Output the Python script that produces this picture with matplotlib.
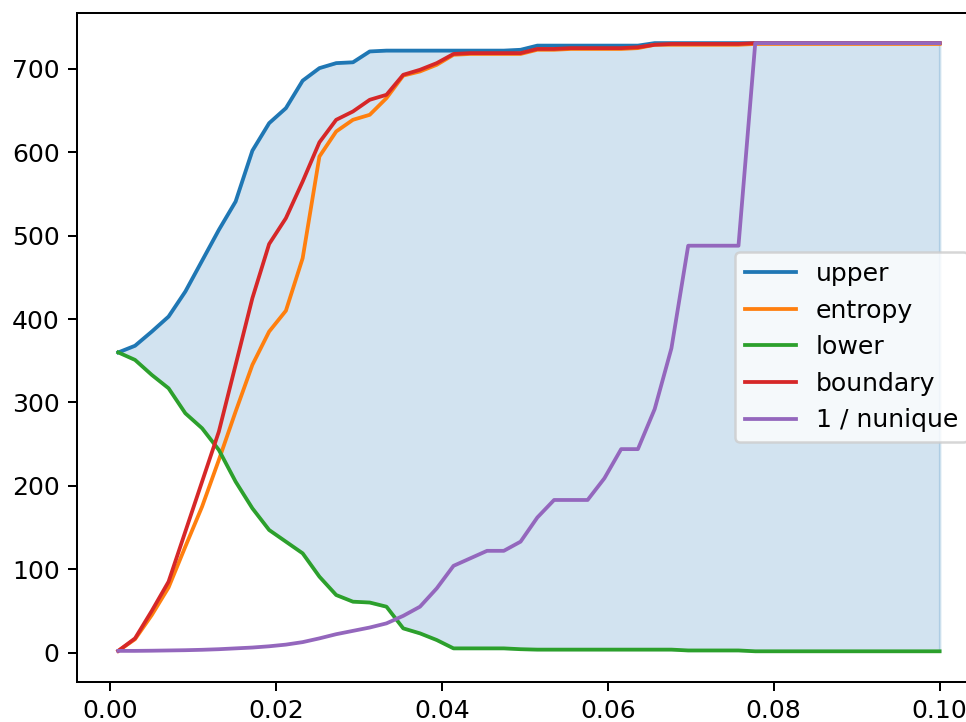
import numpy as np
import matplotlib
matplotlib.use("Agg")
import matplotlib.pyplot as plt

# thresholds (x axis)
x = np.linspace(0.001, 0.1, 50)

upper = [360, 368, 385, 403, 433, 470, 507, 541, 602, 635,
         653, 686, 701, 707, 708, 721, 722, 722, 722, 722,
         722, 722, 722, 722, 723, 728, 728, 728, 728, 728,
         728, 728, 731, 731, 731, 731, 731, 731, 731, 731,
         731, 731, 731, 731, 731, 731, 731, 731, 731, 731]

entropy = [2, 16, 45, 78, 127, 175, 231, 289, 345, 385,
           410, 473, 595, 625, 639, 645, 665, 692, 697, 705,
           717, 718, 718, 718, 718, 723, 723, 724, 724, 724,
           724, 725, 729, 729, 729, 729, 729, 729, 730, 730,
           730, 730, 730, 730, 730, 730, 730, 730, 730, 730]

lower = [360, 351, 333, 317, 287, 269, 243, 205, 173, 147,
         133, 119, 91, 69, 61, 60, 55, 29, 23, 15,
         5, 5, 5, 5, 4, 3.5, 3.5, 3.5, 3.5, 3.5,
         3.5, 3.5, 3.5, 3.5, 2.5, 2.5, 2.5, 2.5, 1.5, 1.5,
         1.5, 1.5, 1.5, 1.5, 1.5, 1.5, 1.5, 1.5, 1.5, 1.5]

boundary = [2, 17, 50, 85, 145, 205, 265, 345, 425, 490,
            521, 565, 612, 639, 649, 663, 669, 693, 699, 707,
            718, 719, 719, 719, 719, 724, 724, 725, 725, 725,
            725, 726, 729, 730, 730, 730, 730, 730, 731, 731,
            731, 731, 731, 731, 731, 731, 731, 731, 731, 731]

inv_nunique = [2, 2, 2.2, 2.5, 2.8, 3.3, 4, 5, 6, 7.5,
               9.5, 12.5, 17, 22, 26, 30, 35, 44, 55, 77,
               104, 113, 122, 122, 133, 162, 183, 183, 183, 209,
               244, 244, 292, 365, 488, 488, 488, 488, 731, 731,
               731, 731, 731, 731, 731, 731, 731, 731, 731, 731]

dpi = 181
fig = plt.figure(figsize=(966 / dpi, 722 / dpi), dpi=dpi)
ax = fig.add_axes([77.2 / 966, 40.3 / 722, 903.5 / 966, 669 / 722])

ax.fill_between(x, lower, upper, color="C0", alpha=0.2)
ax.plot(x, upper, color="C0", label="upper")
ax.plot(x, entropy, color="C1", label="entropy")
ax.plot(x, lower, color="C2", label="lower")
ax.plot(x, boundary, color="C3", label="boundary")
ax.plot(x, inv_nunique, color="C4", label="1 / nunique")

ax.set_xticks([0.0, 0.02, 0.04, 0.06, 0.08, 0.10])
ax.set_xticklabels(["0.00", "0.02", "0.04", "0.06", "0.08", "0.10"])
ax.legend(loc="center right")

fig.savefig("out.png", dpi=dpi)
